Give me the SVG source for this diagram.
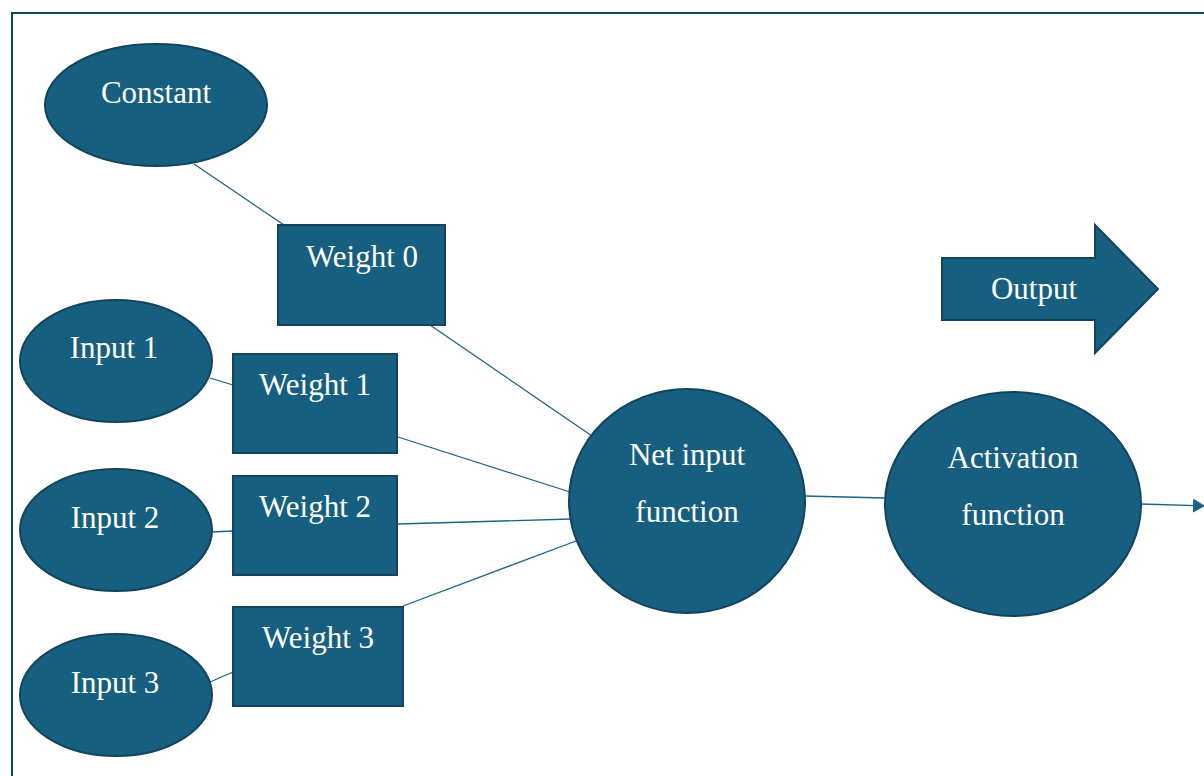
<svg xmlns="http://www.w3.org/2000/svg" width="1204" height="776" viewBox="0 0 1204 776">
  <style>
    .shape { fill: #175f80; stroke: #12445d; stroke-width: 2; }
    .label { font-family: "Liberation Serif", "Times New Roman", serif; font-size: 31px; fill: #ffffff; text-anchor: middle; }
    .link { stroke: #1a6386; stroke-width: 1.3; fill: none; }
  </style>
  <defs>
    <marker id="arrow" viewBox="0 0 12 14" refX="12" refY="7" markerWidth="12" markerHeight="14" markerUnits="userSpaceOnUse" orient="auto">
      <path d="M0,0 L12,7 L0,14 Z" fill="#1a6386"/>
    </marker>
  </defs>

  <!-- outer frame -->
  <rect x="12" y="13" width="1210" height="780" fill="#ffffff" stroke="#12445d" stroke-width="2"/>

  <!-- connectors -->
  <g id="connectors">
    <line class="link" x1="194" y1="164" x2="284" y2="225"/>
    <line class="link" x1="430" y1="325" x2="592" y2="436"/>
    <line class="link" x1="210" y1="378" x2="233" y2="385"/>
    <line class="link" x1="398" y1="437" x2="570" y2="492"/>
    <line class="link" x1="212" y1="532" x2="233" y2="531"/>
    <line class="link" x1="398" y1="524" x2="571" y2="519"/>
    <line class="link" x1="210" y1="682" x2="233" y2="672"/>
    <line class="link" x1="403" y1="606" x2="576" y2="541"/>
    <line class="link" x1="805" y1="496" x2="885" y2="498"/>
    <line class="link" x1="1141" y1="504" x2="1205" y2="506" marker-end="url(#arrow)"/>
  </g>

  <g id="constant">
    <ellipse class="shape" cx="156" cy="105" rx="111" ry="61"/>
    <text class="label" x="156" y="103">Constant</text>
  </g>
  <g id="weight0">
    <rect class="shape" x="278" y="225" width="167" height="100"/>
    <text class="label" x="362" y="267">Weight 0</text>
  </g>
  <g id="input1">
    <ellipse class="shape" cx="116" cy="361" rx="96" ry="61"/>
    <text class="label" x="114" y="358">Input 1</text>
  </g>
  <g id="weight1">
    <rect class="shape" x="233" y="354" width="164" height="99"/>
    <text class="label" x="315" y="395">Weight 1</text>
  </g>
  <g id="input2">
    <ellipse class="shape" cx="116" cy="530" rx="96" ry="61"/>
    <text class="label" x="115" y="528">Input 2</text>
  </g>
  <g id="weight2">
    <rect class="shape" x="233" y="476" width="164" height="99"/>
    <text class="label" x="315" y="517">Weight 2</text>
  </g>
  <g id="input3">
    <ellipse class="shape" cx="116" cy="695" rx="96" ry="61"/>
    <text class="label" x="115" y="693">Input 3</text>
  </g>
  <g id="weight3">
    <rect class="shape" x="233" y="607" width="170" height="99"/>
    <text class="label" x="318" y="648">Weight 3</text>
  </g>
  <g id="net-input">
    <ellipse class="shape" cx="687" cy="501" rx="118" ry="112"/>
    <text class="label" x="687" y="465">Net input</text>
    <text class="label" x="687" y="522">function</text>
  </g>
  <g id="activation">
    <ellipse class="shape" cx="1013" cy="504" rx="128" ry="112"/>
    <text class="label" x="1013" y="468">Activation</text>
    <text class="label" x="1013" y="525">function</text>
  </g>
  <g id="output">
    <path class="shape" d="M942,258 L1095,258 L1095,225 L1158,289 L1095,353 L1095,320 L942,320 Z"/>
    <text class="label" x="1034" y="299">Output</text>
  </g>
</svg>
